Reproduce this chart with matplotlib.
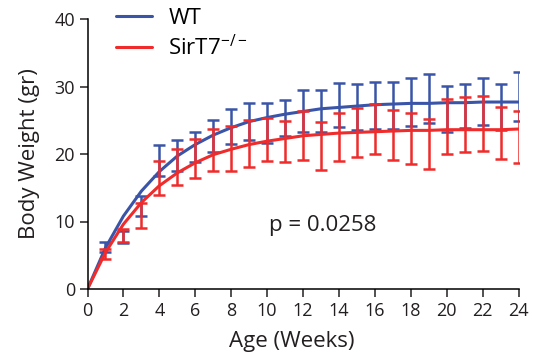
import numpy as np
import matplotlib.pyplot as plt

plt.rcParams['font.family'] = ['Open Sans', 'DejaVu Sans']

# weeks with measurements
weeks = np.arange(1, 25)

# mean body weight (gr) and error (half bar length)
wt_mean = [6.25, 7.7, 12.3, 19.05, 19.8, 21.0, 22.65, 24.05, 24.85, 24.65, 25.35, 26.35,
           26.35, 27.25, 26.95, 27.15, 27.2, 27.7, 28.25, 26.65, 27.1, 27.8, 26.9, 28.55]
wt_err = [0.75, 0.9, 1.5, 2.35, 2.3, 2.2, 2.35, 2.55, 2.75, 2.95, 2.65, 3.15,
          3.15, 3.25, 3.35, 3.45, 3.5, 3.6, 3.65, 3.45, 3.3, 3.5, 3.4, 3.65]
ko_mean = [5.15, 7.9, 10.95, 16.45, 18.1, 19.35, 20.6, 20.85, 21.55, 22.2, 21.85, 22.7,
           21.25, 22.55, 23.15, 23.7, 22.8, 22.3, 21.5, 24.05, 24.35, 24.5, 23.1, 22.45]
ko_err = [0.75, 1.0, 1.85, 2.55, 2.7, 2.85, 3.1, 3.35, 3.45, 3.2, 3.05, 3.6,
          3.55, 3.55, 3.65, 3.7, 3.7, 3.8, 3.7, 4.05, 4.05, 4.1, 3.9, 3.85]

# fitted growth curves, read at each week (0..24)
fit_weeks = np.arange(0, 25)
wt_fit = [0, 6.1, 10.8, 14.5, 17.4, 19.7, 21.4, 22.8, 23.9, 24.8, 25.4, 25.9, 26.3,
          26.7, 26.9, 27.1, 27.3, 27.4, 27.5, 27.5, 27.6, 27.6, 27.7, 27.7, 27.7]
ko_fit = [0, 5.4, 9.6, 12.8, 15.3, 17.2, 18.7, 19.9, 20.7, 21.4, 21.9, 22.3, 22.7,
          22.9, 23.1, 23.2, 23.3, 23.4, 23.5, 23.5, 23.6, 23.6, 23.6, 23.6, 23.7]

blue = '#3a55a8'
red = '#ef2b2b'
txt = '#231f20'

fig = plt.figure(figsize=(5.33, 3.6), dpi=100)
ax = fig.add_axes([87.5 / 533, 1 - 289 / 360, 431 / 533, 270 / 360])

ax.errorbar(weeks, wt_mean, yerr=wt_err, fmt='none', ecolor=blue, elinewidth=1.8,
            capsize=4.2, capthick=1.8)
ax.plot(fit_weeks, wt_fit, color=blue, lw=2.2, label='WT', solid_capstyle='round')
ax.errorbar(weeks, ko_mean, yerr=ko_err, fmt='none', ecolor=red, elinewidth=1.8,
            capsize=4.2, capthick=1.8)
ax.plot(fit_weeks, ko_fit, color=red, lw=2.2, label=r'SirT7$^{\mathregular{-/-}}$',
        solid_capstyle='round')

ax.set_xlim(0, 24)
ax.set_ylim(0, 40)
ax.set_xticks(np.arange(0, 25, 2))
ax.set_yticks(np.arange(0, 41, 10))
for s in ['top', 'right']:
    ax.spines[s].set_visible(False)
for s in ['left', 'bottom']:
    ax.spines[s].set_linewidth(1.1)
ax.tick_params(length=6, width=1.1, labelsize=13, pad=3, colors=txt)
ax.set_xlabel('Age (Weeks)', fontsize=16, color=txt)
ax.set_ylabel('Body Weight (gr)', fontsize=16, color=txt)
ax.xaxis.set_label_coords((291.5 - 87.5) / 431, -0.155)
ax.yaxis.set_label_coords((40 - 87.5) / 431, 0.5)

ax.legend(loc='upper left', bbox_to_anchor=((116 - 87.5) / 431, (289 - 8) / 270),
          frameon=False, fontsize=16, borderaxespad=0, borderpad=0,
          handlelength=1.6, handletextpad=0.75, labelspacing=0.25)
ax.text(0.42, (289 - 225) / 270, 'p = 0.0258', transform=ax.transAxes, fontsize=16,
        color=txt, va='center')

fig.savefig('out.png', dpi=100)
